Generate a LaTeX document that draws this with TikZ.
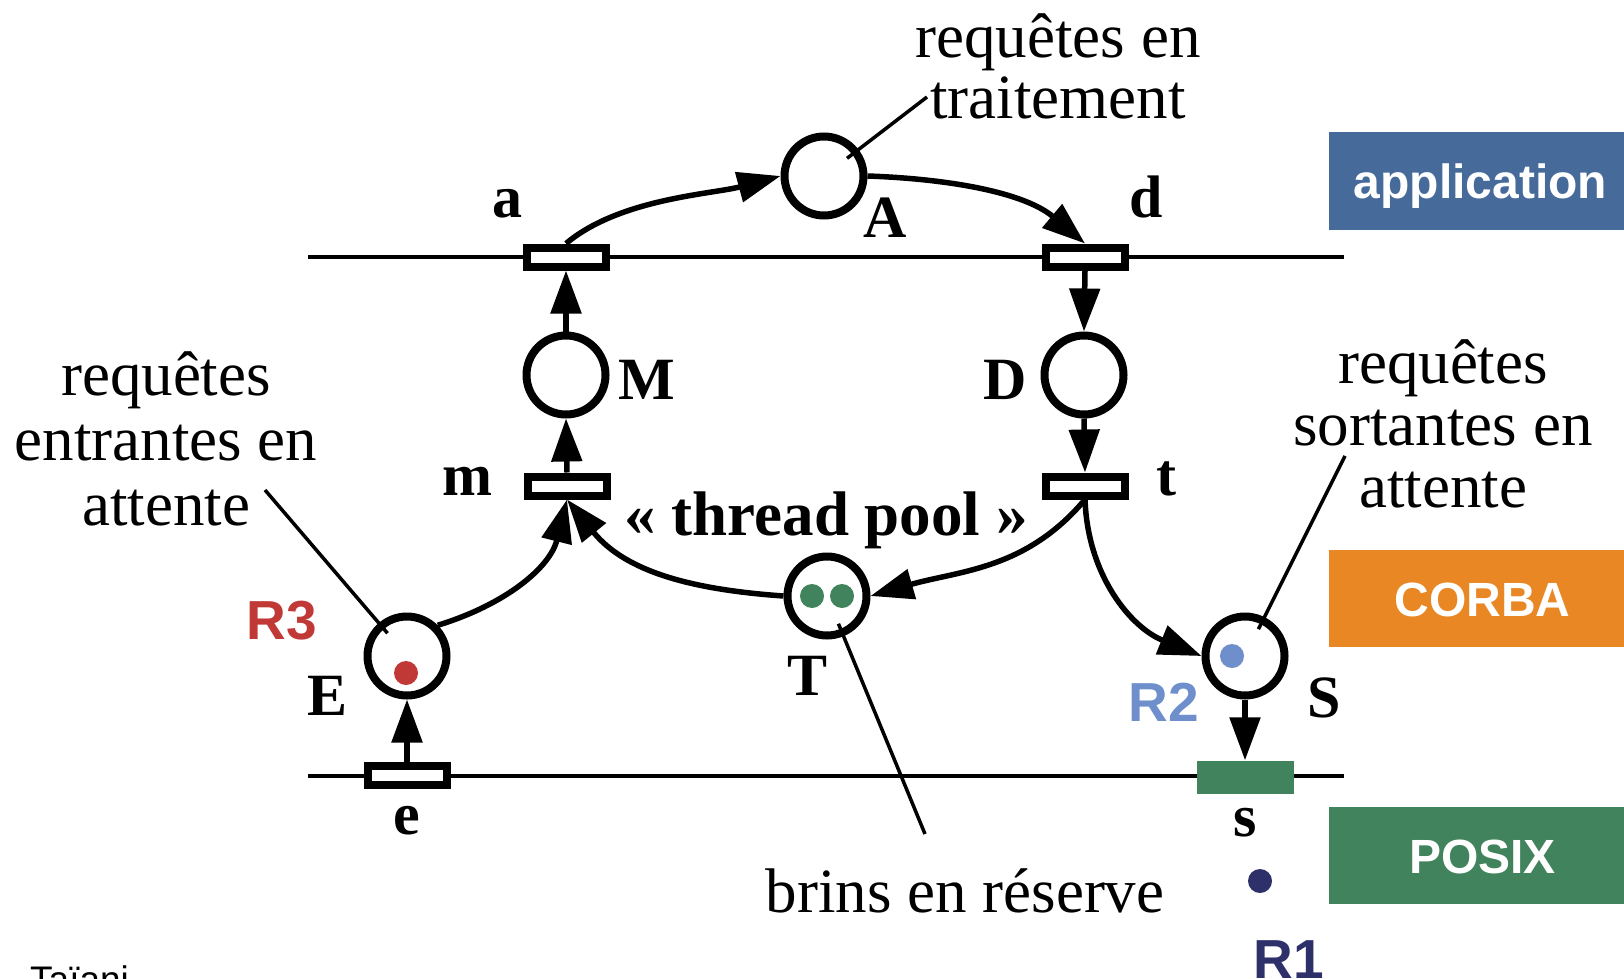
\documentclass[tikz,border=0pt]{standalone}
\usepackage{fontspec}
\setmainfont{Liberation Serif}
\newfontfamily\arialf{Liberation Sans}
\usetikzlibrary{arrows.meta,calc}
\definecolor{appblue}{RGB}{70,106,154}
\definecolor{corbaorange}{RGB}{234,135,37}
\definecolor{posixgreen}{RGB}{65,131,93}
\definecolor{rred}{RGB}{192,57,54}
\definecolor{rblue}{RGB}{110,142,204}
\definecolor{rnavy}{RGB}{45,48,105}
\begin{document}
\begin{tikzpicture}[x=1pt,y=-1pt,
  place/.style={circle,draw,line width=8pt,minimum size=79pt,inner sep=0pt,fill=white},
  trans/.style={rectangle,draw,line width=8pt,minimum width=79pt,minimum height=19pt,inner sep=0pt,fill=white},
  tok/.style={circle,inner sep=0pt,minimum size=24pt},
  lbl/.style={font=\fontsize{60}{60}\selectfont\bfseries,inner sep=0pt,anchor=base},
  rlbl/.style={font=\arialf\fontsize{55}{55}\selectfont\bfseries,inner sep=0pt,anchor=base},
  txt/.style={align=center,inner sep=0pt,anchor=base},
  layer/.style={rectangle,inner sep=0pt,minimum width=295pt,minimum height=97pt,text=white,
     font=\arialf\fontsize{48}{48}\selectfont\bfseries,text height=35pt,text depth=0pt},
  arc/.style={line width=5.5pt,-{Triangle[length=43pt,width=30pt]}},
  lead/.style={line width=3.5pt},
  hline/.style={line width=3.5pt}
]
\useasboundingbox (0,0) rectangle (1624,979);

% layer lines
\coordinate (tl) at (308,257);
\coordinate (tr) at (1344,257);
\coordinate (bl) at (308,776);
\coordinate (br) at (1344,776);
\draw[hline] (tl) -- (tr);
\draw[hline] (bl) -- (br);

% layer boxes
\node[layer,fill=appblue] (app) at (1476.5,181) {\hspace*{8pt}application};
\node[layer,fill=corbaorange] (corba) at (1476.5,598.5) {\hspace*{12pt}CORBA};
\node[layer,fill=posixgreen] (posix) at (1476.5,855.5) {\hspace*{12pt}POSIX};

% transitions
\node[trans] (a) at (566,257) {};
\node[trans] (d) at (1085,257) {};
\node[trans] (m) at (567,486) {};
\node[trans] (t) at (1085,486) {};
\node[trans] (e) at (407,775) {};
\node[rectangle,fill=posixgreen,minimum width=97pt,minimum height=33pt,inner sep=0pt] (s) at (1245,777) {};

% places
\node[place] (A) at (824,176) {};
\node[place] (M) at (566,375) {};
\node[place] (D) at (1084,375) {};
\node[place] (T) at (827,596) {};
\node[place] (E) at (407,656) {};
\node[place] (S) at (1245,656) {};

% tokens
\node[tok,fill=rred] (tokE) at (406,673) {};
\node[tok,fill=posixgreen] (tokT1) at (812,596) {};
\node[tok,fill=posixgreen] (tokT2) at (842,596) {};
\node[tok,fill=rblue] (tokS) at (1232,656) {};
\node[tok,fill=rnavy] (tokR1) at (1260,881) {};

% arcs
\draw[arc] (a.north) to[out=40,in=195,looseness=0.8] (A.west);
\draw[arc] (A.east) to[out=-2,in=140,looseness=0.9] (d.north);
\draw[arc] (d.south) -- (D.north);
\draw[arc] (D.south) -- (t.north);
\draw[arc] (m.north) -- (M.south);
\draw[arc] (M.north) -- (a.south);
\draw[arc] (E.45) to[out=17,in=256] (m.south);
\draw[arc] (T.west) to[out=176,in=-51] (m.south);
\draw[arc] (t.south) to[out=230,in=16] (T.east);
\draw[arc] (t.south) to[out=-88,in=158] (S.west);
\draw[arc] (S.south) -- (s.north);
\draw[arc] (e.north) -- (E.south);

% leaders
\coordinate (lA) at (927,97);
\coordinate (lE) at (265,490);
\coordinate (lS) at (1345,456);
\coordinate (lT) at (925,834);
\draw[lead] (lA) -- ($(A.center)!29pt!(lA)$);
\draw[lead] (lE) -- ($(E.center)!30pt!(lE)$);
\draw[lead] (lS) -- ($(S.center)!30pt!(lS)$);
\draw[lead] (lT) -- ($(T.center)!30pt!(lT)$);

% labels
\node[lbl] (la) at (507,217) {a};
\node[lbl] (ld) at (1146,217) {d};
\node[lbl] (lAa) at (885,237) {A};
\node[lbl] (lM) at (647,399) {M};
\node[lbl] (lD) at (1005,399) {D};
\node[lbl] (lm) at (467,495) {m};
\node[lbl] (lt) at (1166,495) {t};
\node[lbl] (lTT) at (807,695) {T};
\node[lbl] (lEE) at (328,715) {E};
\node[lbl] (lSS) at (1324,717) {S};
\node[lbl] (le) at (407,834) {e};
\node[lbl] (ls) at (1245,836) {s};
\node[lbl,font=\fontsize{63}{63}\selectfont\bfseries] (pool) at (826,535) {« thread pool »};

\node[rlbl,text=rred] (R3) at (282,639) {R3};
\node[rlbl,text=rblue] (R2) at (1164,721) {R2};
\node[rlbl,text=rnavy] (R1) at (1289,978) {R1};

% texts (base anchor = last line baseline)
\node[txt,font=\fontsize{63}{61}\selectfont] (ttrait) at (1058,119) {requêtes en\\traitement};
\node[txt,font=\fontsize{63}{65}\selectfont] (tentr) at (166,525) {requêtes\\entrantes en\\attente};
\node[txt,font=\fontsize{63}{62}\selectfont] (tsort) at (1443,507) {requêtes\\sortantes en\\attente};
\node[txt,font=\fontsize{63}{62}\selectfont] (tbrins) at (965,912) {brins en réserve};

\node[font=\arialf\fontsize{37}{37}\selectfont,inner sep=0pt,anchor=base west] (author) at (30,992) {Taïani};
\end{tikzpicture}
\end{document}
